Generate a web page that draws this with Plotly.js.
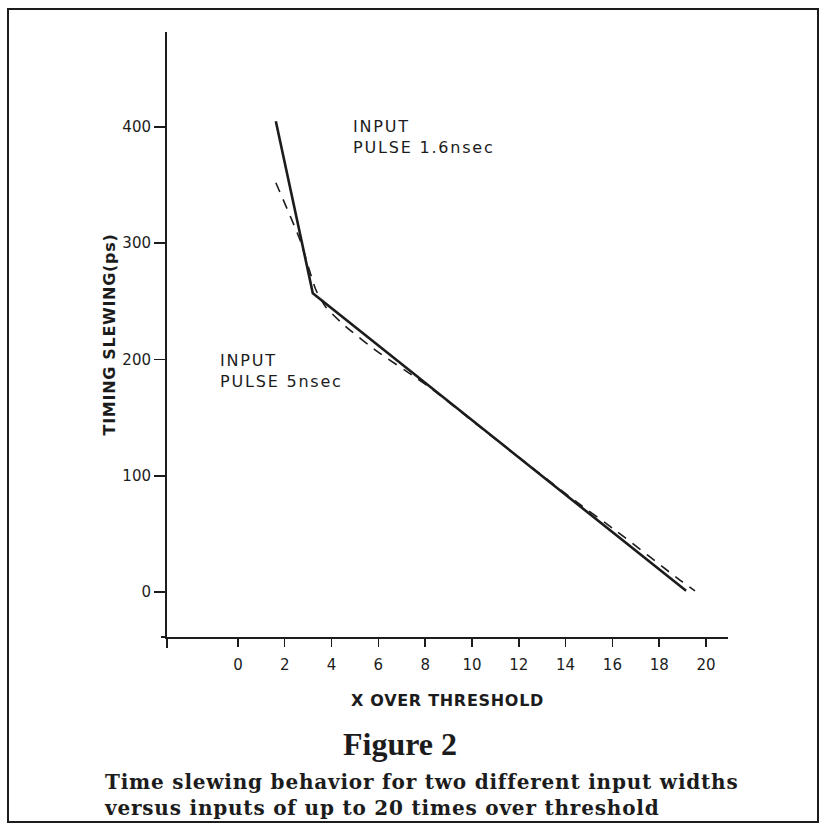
<!DOCTYPE html>
<html>
<head>
<meta charset="utf-8">
<script src="https://cdn.plot.ly/plotly-3.0.1.min.js"></script>
<style>
  html, body { margin: 0; padding: 0; background: #ffffff; }
  #chart { width: 820px; height: 825px; }
  .xtitle, .ytitle { letter-spacing: 0.7px; }
  .annotation[data-index="0"] .annotation-text,
  .annotation[data-index="1"] .annotation-text { letter-spacing: 1.8px; }
  .annotation[data-index="3"] .annotation-text { letter-spacing: 0.8px; }
</style>
</head>
<body>
<div id="chart"></div>
<script>
// ---- data ----
var pulse16X = [1.62, 3.2, 19.15];
var pulse16Y = [405, 257, 1];

var pulse5X = [1.62, 2.65, 3.33, 3.76, 4.57, 5.98, 7.56, 8.33, 10.34, 12.5, 14.5, 16.2, 18.9, 19.53];
var pulse5Y = [352, 303, 260, 245, 229, 206.5, 185, 174, 142, 108, 77, 52, 10, 1];

var xTickVals = [0, 2, 4, 6, 8, 10, 12, 14, 16, 18, 20];
var xTickText = ["0", "2", "4", "6", "8", "10", "12", "14", "16", "18", "20"];
var yTickVals = [0, 100, 200, 300, 400];
var yTickText = ["0", "100", "200", "300", "400"];

var xTitle = "X OVER THRESHOLD";
var yTitle = "TIMING SLEWING(ps)";
var label16 = "INPUT<br>PULSE 1.6nsec";
var label5 = "INPUT<br>PULSE 5nsec";
var figLabel = "Figure 2";
var captionLines = [
  "Time slewing behavior for two different input widths",
  "versus inputs of up to 20 times over threshold"
];

// ---- geometry (pixels of the 820x825 page) ----
var L = 167, R = 728, T = 32, B = 637;
var W = R - L, H = B - T;
function px(x) { return (x - L) / W; }
function py(y) { return (B - y) / H; }

var ink = '#1c1c1c';

var traces = [
  {
    x: pulse16X, y: pulse16Y, type: 'scatter', mode: 'lines',
    name: 'Input pulse 1.6 nsec',
    line: { color: ink, width: 2.6 },
    hoverinfo: 'x+y'
  },
  {
    x: pulse5X, y: pulse5Y, type: 'scatter', mode: 'lines',
    name: 'Input pulse 5 nsec',
    line: { color: ink, width: 1.6, dash: '10px,8px', shape: 'spline', smoothing: 0.6 },
    hoverinfo: 'x+y'
  }
];

var layout = {
  width: 820, height: 825,
  margin: { l: L, r: 820 - R, t: T, b: 825 - B, pad: 0 },
  paper_bgcolor: '#ffffff', plot_bgcolor: '#ffffff',
  showlegend: false,
  font: { family: 'DejaVu Sans', color: ink },
  xaxis: {
    range: [-3.03, 20.94],
    showgrid: false, zeroline: false,
    showline: true, linecolor: ink, linewidth: 2,
    ticks: 'outside', ticklen: 8, tickwidth: 1.5, tickcolor: ink,
    tickvals: xTickVals, ticktext: xTickText,
    tickfont: { family: 'DejaVu Sans', size: 15, color: ink },
    ticklabelstandoff: 5,
    title: { text: xTitle, standoff: 22, font: { family: 'DejaVu Sans', size: 16, weight: 'bold', color: ink } }
  },
  yaxis: {
    range: [-38.7, 481.7],
    showgrid: false, zeroline: false,
    showline: true, linecolor: ink, linewidth: 2,
    ticks: 'outside', ticklen: 11, tickwidth: 1.5, tickcolor: ink,
    tickvals: yTickVals, ticktext: yTickText,
    tickfont: { family: 'DejaVu Sans', size: 15, color: ink },
    ticklabelstandoff: 0,
    title: { text: yTitle, standoff: 3, font: { family: 'DejaVu Sans', size: 16, weight: 'bold', color: ink } }
  },
  shapes: [
    // outer frame of the figure
    { type: 'rect', xref: 'paper', yref: 'paper',
      x0: px(8), x1: px(818), y0: py(822), y1: py(9),
      line: { color: ink, width: 2 }, fillcolor: 'rgba(0,0,0,0)' },
    // small overhang of the x axis to the left of the y axis
    { type: 'line', xref: 'paper', yref: 'paper',
      x0: px(161), x1: 0, y0: 0, y1: 0, line: { color: ink, width: 2 } },
    // y axis continues slightly below the x axis
    { type: 'line', xref: 'paper', yref: 'paper',
      x0: 0, x1: 0, y0: 0, y1: py(648), line: { color: ink, width: 2 } }
  ],
  annotations: [
    { text: label16, xref: 'x', yref: 'y', x: 4.85, y: 410,
      xanchor: 'left', yanchor: 'top', align: 'left', showarrow: false,
      font: { family: 'DejaVu Sans', size: 16, color: ink } },
    { text: label5, xref: 'x', yref: 'y', x: -0.85, y: 209,
      xanchor: 'left', yanchor: 'top', align: 'left', showarrow: false,
      font: { family: 'DejaVu Sans', size: 16, color: ink } },
    { text: figLabel, xref: 'paper', yref: 'paper', x: px(400), y: py(744),
      xanchor: 'center', yanchor: 'middle', showarrow: false,
      font: { family: 'Liberation Serif', size: 32, weight: 'bold', color: ink } },
    { text: captionLines.join('<br>'), xref: 'paper', yref: 'paper', x: px(102), y: py(795),
      xanchor: 'left', yanchor: 'middle', align: 'left', showarrow: false,
      font: { family: 'DejaVu Serif', size: 20, weight: 'bold', color: ink } }
  ]
};

Plotly.newPlot('chart', traces, layout, { staticPlot: true, displayModeBar: false });
</script>
</body>
</html>
